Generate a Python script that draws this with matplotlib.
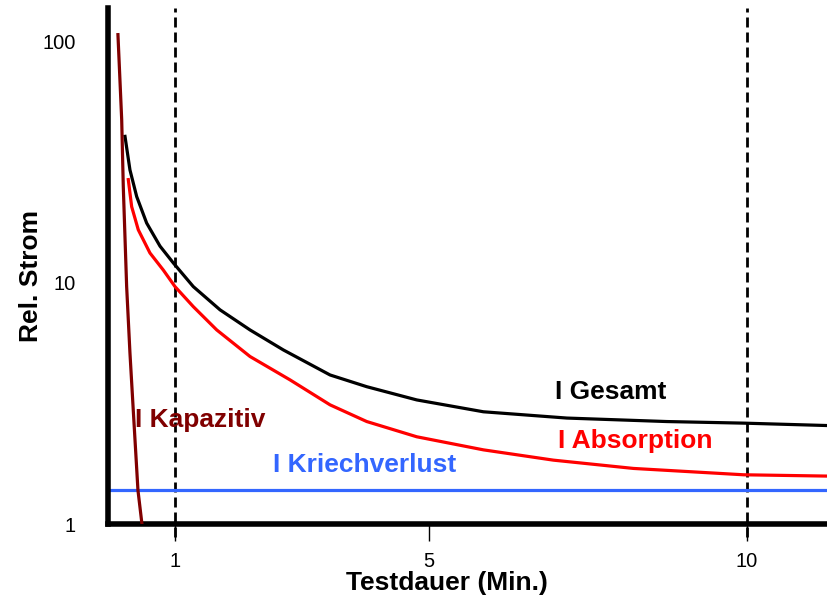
import matplotlib
matplotlib.use("Agg")
from matplotlib import pyplot as plt

plt.rcParams['font.family'] = ['Liberation Sans', 'DejaVu Sans']

# values (x in minutes, y relative current, log scale)
kap_x = [0.102, 0.161, 0.186, 0.239, 0.291, 0.343, 0.417, 0.48]
kap_y = [107, 47.5, 25.1, 9.65, 5.12, 2.97, 1.38, 1.0]

ges_x = [0.213, 0.291, 0.397, 0.554, 0.764, 0.973, 1.288, 1.709, 2.181, 2.706,
         3.441, 4.019, 4.806, 5.855, 7.169, 8.743, 9.950, 11.28]
ges_y = [40.5, 29.4, 22.8, 17.7, 14.2, 12.1, 9.65, 7.73, 6.38, 5.27,
         4.15, 3.71, 3.27, 2.92, 2.75, 2.66, 2.62, 2.56]

abs_x = [0.265, 0.318, 0.422, 0.606, 0.816, 1.0, 1.288, 1.657, 2.181, 2.811,
         3.441, 4.019, 4.806, 5.855, 6.957, 8.217, 9.950, 11.28]
abs_y = [26.8, 20.7, 16.6, 13.3, 11.3, 9.65, 7.97, 6.38, 4.95, 3.96,
         3.12, 2.66, 2.30, 2.03, 1.84, 1.70, 1.60, 1.58]

kriech_y = 1.39

marker_x = [1, 10]
xticks = [1, 5, 10]
yticks = [1, 10, 100]
ytick_labels = ["1", "10", "100"]

c_kap = '#800000'
c_abs = '#ff0000'
c_kriech = '#3366ff'

fig = plt.figure(figsize=(8.28, 5.96), dpi=100)
ax = fig.add_axes([0.1304, 0.1208, 0.8696, 0.8658])

ax.set_yscale('log')
ax.set_xlim(-0.055, 11.28)
ax.set_ylim(1.0, 138)

for mx in marker_x:
    ax.plot([mx, mx], [-0.025, 1.0], transform=ax.get_xaxis_transform(),
            color='black', lw=2.0, linestyle=(0, (3.6, 1.8)), clip_on=False, zorder=1)

ax.axhline(kriech_y, color=c_kriech, lw=2.3, zorder=2)
ax.plot(abs_x, abs_y, color=c_abs, lw=2.3, zorder=3)
ax.plot(ges_x, ges_y, color='black', lw=2.3, zorder=3)
ax.plot(kap_x, kap_y, color=c_kap, lw=2.3, zorder=4)

ax.text(6.98, 3.53, "I Gesamt", color='black', fontsize=19, fontweight='bold',
        ha='left', va='center')
ax.text(7.03, 2.21, "I Absorption", color=c_abs, fontsize=19, fontweight='bold',
        ha='left', va='center')
ax.text(2.54, 1.76, "I Kriechverlust", color=c_kriech, fontsize=19, fontweight='bold',
        ha='left', va='center')
ax.text(0.37, 2.70, "I Kapazitiv", color=c_kap, fontsize=19, fontweight='bold',
        ha='left', va='center')

for side in ['top', 'right']:
    ax.spines[side].set_visible(False)
for side in ['left', 'bottom']:
    ax.spines[side].set_linewidth(4)

ax.set_xticks(xticks)
ax.set_xticklabels([str(t) for t in xticks])
ax.set_yticks(yticks)
ax.set_yticklabels(ytick_labels)
ax.yaxis.set_minor_locator(matplotlib.ticker.NullLocator())
ax.tick_params(axis='x', length=12, width=1, pad=8, labelsize=14.5, color='black')
ax.tick_params(axis='y', length=0, pad=23, labelsize=14.5)

ax.set_xlabel("Testdauer (Min.)", fontsize=19, fontweight='bold')
ax.xaxis.set_label_coords(0.471, -0.091)
ax.set_ylabel("Rel. Strom", fontsize=19, fontweight='bold')
ax.yaxis.set_label_coords(-0.09, 0.48)

fig.savefig("out.png", dpi=100)
